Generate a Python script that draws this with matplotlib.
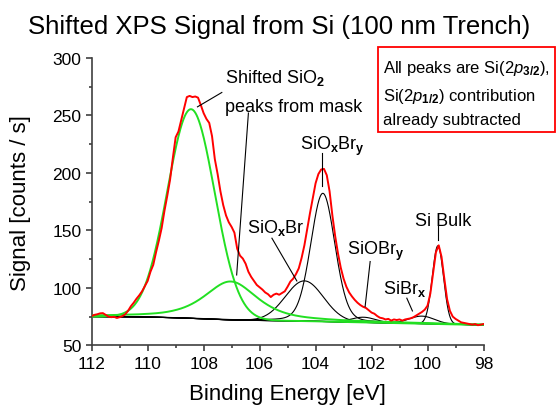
import numpy as np
import matplotlib
matplotlib.use("Agg")
import matplotlib.pyplot as plt
from matplotlib.patches import Rectangle
from matplotlib.ticker import MultipleLocator

plt.rcParams['font.family'] = ['Liberation Sans', 'DejaVu Sans']
plt.rcParams['mathtext.fontset'] = 'custom'
plt.rcParams['mathtext.rm'] = 'Liberation Sans'
plt.rcParams['mathtext.it'] = 'Liberation Sans:italic'
plt.rcParams['mathtext.bf'] = 'Liberation Sans:bold'

# measured spectrum, 112 eV -> 98 eV in 0.1 eV steps
signal = [
    75.5, 76.5, 77.0, 77.8, 78.0, 76.5, 75.0, 74.5, 74.8, 73.8,
    74.5, 75.5, 77.0, 80.0, 84.0, 87.0, 90.5, 93.5, 97.0, 101.5,
    106.0, 114.0, 120.0, 131.0, 141.0, 152.0, 167.0, 180.0, 194.0, 213.0,
    231.0, 236.0, 246.0, 256.0, 266.0, 267.0, 266.0, 266.5, 265.5, 259.0,
    252.0, 247.0, 243.5, 232.0, 212.0, 199.0, 184.0, 172.0, 163.0, 157.0,
    153.0, 148.0, 134.0, 128.0, 125.5, 121.0, 114.0, 109.5, 106.0, 102.5,
    100.5, 98.5, 96.0, 94.5, 92.0, 94.0, 95.0, 94.0, 95.5, 97.0,
    101.0, 105.5, 108.0, 112.0, 117.0, 126.0, 137.0, 151.0, 165.0, 178.0,
    191.0, 199.0, 203.0, 203.5, 198.0, 184.0, 163.0, 145.0, 130.0, 117.5,
    108.0, 101.0, 96.0, 92.5, 89.5, 87.0, 85.0, 83.5, 82.5, 80.5,
    78.5, 77.5, 75.5, 74.0, 73.5, 72.5, 73.0, 71.5, 72.5, 72.0,
    72.5, 71.5, 72.5, 73.0, 73.5, 74.5, 76.0, 77.5, 79.0, 81.0,
    84.5, 95.0, 113.0, 131.0, 137.0, 127.0, 108.0, 90.0, 80.0, 75.0,
    73.0, 71.5, 70.0, 69.5, 69.0, 68.5, 68.0, 68.5, 67.5, 68.0,
    68.5,
]

# background read at whole eV
bg_energy = [112, 111, 110, 109, 108, 107, 106, 105, 104, 103, 102, 101, 100, 99, 98]
bg_level = [75.0, 74.9, 74.6, 74.0, 73.0, 72.0, 71.6, 71.3, 70.9, 70.3, 69.8, 69.3, 68.8, 68.2, 67.8]

# fitted components (pseudo-Voigt): centre, height above bg, fwhm, lorentz fraction
peak_center = [108.45, 107.03, 104.40, 103.74, 102.29, 100.20, 99.63]
peak_height = [182.0, 33.5, 35.0, 111.5, 4.5, 6.5, 68.0]
peak_fwhm = [1.99, 2.24, 1.60, 1.02, 1.00, 1.05, 0.47]
peak_mix = [0.0, 0.65, 0.0, 0.15, 0.0, 0.0, 0.0]
peak_green = [True, True, False, False, False, False, False]

E = np.linspace(112, 98, len(signal))
Efit = np.linspace(112, 98, 1401)
bg = np.interp(Efit, bg_energy[::-1], bg_level[::-1])

fig = plt.figure(figsize=(5.58, 4.14), dpi=100)
ax = fig.add_axes([0.1643, 0.1635, 0.7022, 0.694])

ax.plot(bg_energy, bg_level, color='k', lw=0.8)
for c, h, w, m, g in zip(peak_center, peak_height, peak_fwhm, peak_mix, peak_green):
    x = (Efit - c) / (w / 2)
    prof = m / (1 + x**2) + (1 - m) * np.exp(-np.log(2) * x**2)
    if g:
        ax.plot(Efit, bg + h * prof, color='#22e022', lw=1.4, zorder=3)
    else:
        ax.plot(Efit, bg + h * prof, color='k', lw=0.8, zorder=2)
ax.plot(E, signal, color='#ff0000', lw=1.4, zorder=4)

# labels with leader lines
fs = 13
ax.text(107.23, 278.8, r'Shifted SiO$_\mathbf{2}$', fontsize=fs)
ax.text(107.23, 253.6, 'peaks from mask', fontsize=fs)
ax.text(106.46, 148.4, r'SiO$_\mathbf{x}$Br', fontsize=fs)
ax.text(104.55, 221.0, r'SiO$_\mathbf{x}$Br$_\mathbf{y}$', fontsize=fs)
ax.text(102.88, 129.3, r'SiOBr$_\mathbf{y}$', fontsize=fs)
ax.text(101.60, 95.3, r'SiBr$_\mathbf{x}$', fontsize=fs)
ax.text(100.44, 154.3, 'Si Bulk', fontsize=fs)
leaders = [
    ((107.35, 108.22), (270.0, 257.5)),
    ((106.40, 106.82), (252.1, 111.2)),
    ((105.56, 104.67), (143.2, 106.0)),
    ((103.76, 103.76), (217.3, 188.6)),
    ((102.05, 102.23), (122.9, 83.7)),
    ((100.74, 100.54), (91.0, 79.9)),
    ((99.61, 99.61), (153.4, 141.7)),
]
for xs, ys in leaders:
    ax.plot(xs, ys, color='k', lw=0.8, zorder=5)

ax.set_xlim(112, 98)
ax.set_ylim(50, 300)
ax.xaxis.set_major_locator(MultipleLocator(2))
ax.xaxis.set_minor_locator(MultipleLocator(1))
ax.yaxis.set_major_locator(MultipleLocator(50))
ax.yaxis.set_minor_locator(MultipleLocator(25))
for s in ['top', 'right']:
    ax.spines[s].set_visible(False)
for s in ['left', 'bottom']:
    ax.spines[s].set_color('#404040')
    ax.spines[s].set_linewidth(1.2)
ax.tick_params(which='major', direction='out', length=4, width=1.2, color='#404040', labelsize=12.5)
ax.tick_params(which='minor', direction='out', length=2.5, width=1.2, color='#404040')
ax.set_xlabel('Binding Energy [eV]', fontsize=16, labelpad=9)
ax.set_ylabel('Signal [counts / s]', fontsize=16)
ax.yaxis.set_label_coords(-0.155, 0.5)

fig.text(0.5, 0.918, 'Shifted XPS Signal from Si (100 nm Trench)', fontsize=18.5, ha='center')

fig.patches.append(Rectangle((0.678, 0.678), 0.3167, 0.2053, transform=fig.transFigure,
                             fill=False, edgecolor='#ff0000', lw=1.3))
fig.text(0.687, 0.823, r'All peaks are Si(2$\mathit{p}_\mathbf{3/2}$),', fontsize=12)
fig.text(0.687, 0.756, r'Si(2$\mathit{p}_\mathbf{1/2}$) contribution', fontsize=12)
fig.text(0.687, 0.698, 'already subtracted', fontsize=12)

fig.savefig('out.png', dpi=100)
